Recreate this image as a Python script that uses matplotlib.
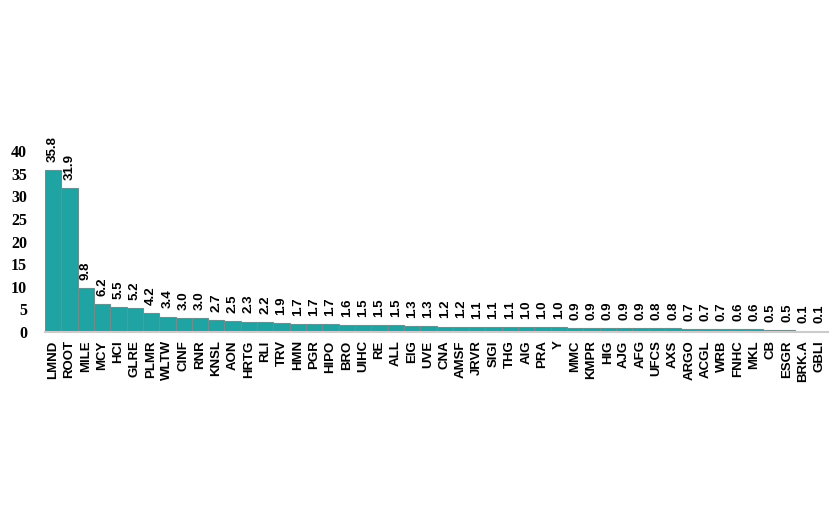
import matplotlib
matplotlib.use("Agg")
import matplotlib.pyplot as plt

tickers = ["LMND", "ROOT", "MILE", "MCY", "HCI", "GLRE", "PLMR", "WLTW", "CINF", "RNR",
           "KNSL", "AON", "HRTG", "RLI", "TRV", "HMN", "PGR", "HIPO", "BRO", "UIHC",
           "RE", "ALL", "EIG", "UVE", "CNA", "AMSF", "JRVR", "SIGI", "THG", "AIG",
           "PRA", "Y", "MMC", "KMPR", "HIG", "AJG", "AFG", "UFCS", "AXS", "ARGO",
           "ACGL", "WRB", "FNHC", "MKL", "CB", "ESGR", "BRK.A", "GBLI"]
values = [35.8, 31.9, 9.8, 6.2, 5.5, 5.2, 4.2, 3.4, 3.0, 3.0,
          2.7, 2.5, 2.3, 2.2, 1.9, 1.7, 1.7, 1.7, 1.6, 1.5,
          1.5, 1.5, 1.3, 1.3, 1.2, 1.2, 1.1, 1.1, 1.1, 1.0,
          1.0, 1.0, 0.9, 0.9, 0.9, 0.9, 0.9, 0.8, 0.8, 0.7,
          0.7, 0.7, 0.6, 0.6, 0.5, 0.5, 0.1, 0.1]
yticks = [0, 5, 10, 15, 20, 25, 30, 35, 40]

fig = plt.figure(figsize=(8.4, 5.15), dpi=100)
ax = fig.add_axes([45/840, 183/515, 783/840, 181/515])
x = range(len(values))
ax.bar(x, values, width=1.0, color="#1fa3a3", edgecolor="#6f8f8f", linewidth=0.8)
ax.set_xlim(-0.5, len(values) - 0.5)
ax.set_ylim(0, 40)
for s in ["top", "right", "left"]:
    ax.spines[s].set_visible(False)
ax.spines["bottom"].set_color("#cccccc")
ax.spines["bottom"].set_linewidth(1.5)
ax.set_yticks(yticks)
ax.set_yticklabels([str(t) for t in yticks], fontfamily="Liberation Serif",
                   fontweight="bold", fontsize=11.5)
ax.tick_params(axis="y", length=0, pad=13)
ax.set_xticks(list(x))
ax.set_xticklabels(tickers, rotation=90, fontfamily="Liberation Sans",
                   fontweight="bold", fontsize=9.5)
ax.tick_params(axis="x", length=0, pad=6)
for i, v in enumerate(values):
    ax.text(i, v + 1.8, f"{v:.1f}", rotation=90, ha="center", va="bottom",
            fontfamily="Liberation Sans", fontweight="bold", fontsize=9.5,
            clip_on=False)
fig.savefig("out.png", dpi=100)
